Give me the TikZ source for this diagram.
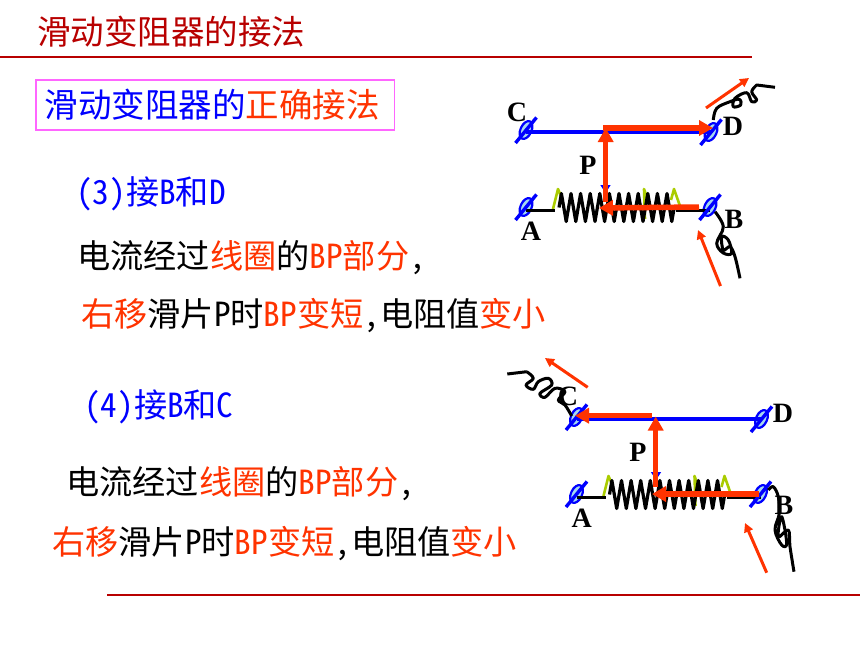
\documentclass[tikz,border=0pt]{standalone}
\usepackage{fontspec}
\setmainfont{Liberation Serif}
\newfontfamily\cjk[RawFeature=+hwid]{Noto Sans CJK SC}
\usetikzlibrary{arrows.meta,shapes.geometric,decorations.pathmorphing}
\definecolor{titlered}{HTML}{B80000}
\definecolor{flowred}{HTML}{FF3300}
\definecolor{boxpink}{HTML}{FF66FF}
\definecolor{capblue}{HTML}{A6D8F0}
\definecolor{stopgreen}{HTML}{AACC00}
\newcommand{\rd}[1]{\textcolor{flowred}{#1}}
\tikzset{
    slide text/.style={anchor=base west, inner sep=0pt, font=\fontsize{33.5}{33.5}\selectfont\cjk},
    body text/.style={slide text, font=\fontsize{33.2}{33.2}\selectfont\cjk},
    terminal/.style={shape=ellipse, draw=blue, fill=capblue, line width=2.2pt, inner sep=0pt, minimum width=11pt, minimum height=19pt, rotate=-25},
    post slash/.style={draw=blue, line width=3.4pt},
    post label/.style={inner sep=0pt, font=\fontsize{28}{28}\selectfont\bfseries},
    flow arrow/.style={draw=flowred, line width=5.5pt, -{Triangle[length=14pt,width=15pt]}},
    move arrow/.style={draw=flowred, line width=3pt, -{Triangle[length=9pt,width=9pt]}},
    lead wire/.style={draw=black, line width=3pt},
    curl wire/.style={draw=black, line width=3pt, line join=round},
    stop mark/.style={draw=stopgreen, line width=2.6pt, line join=round},
}
\begin{document}
\begin{tikzpicture}[x=1pt, y=-1pt]
    \useasboundingbox (0,0) rectangle (860,645);

    \node[slide text, text=titlered] (title) at (37,45) {滑动变阻器的接法};
    \coordinate (ruleA) at (0,57);
    \coordinate (ruleB) at (752,57);
    \draw[titlered, line width=2pt] (ruleA) -- (ruleB);
    \coordinate (ruleC) at (107,594.5);
    \coordinate (ruleD) at (860,594.5);
    \draw[titlered, line width=2pt] (ruleC) -- (ruleD);

    \draw[boxpink, line width=1.4pt] (36,80) rectangle (394.5,130);
    \node[slide text, text=blue] (heading) at (44.5,117) {滑动变阻器的\rd{正确接法}};

    \node[body text, text=blue] (caseThree) at (76,204) {(3)接B和D};
    \node[body text] (pathThree) at (77,268) {电流经过\rd{线圈}的\rd{BP部分},};
    \node[body text] (moveThree) at (81,326) {\rd{右移}滑片P时\rd{BP变短},电阻值\rd{变小}};
    \node[body text, text=blue] (caseFour) at (84,417) {(4)接B和C};
    \node[body text] (pathFour) at (66,494) {电流经过\rd{线圈}的\rd{BP部分},};
    \node[body text] (moveFour) at (52,554) {\rd{右移}滑片P时\rd{BP变短},电阻值\rd{变小}};

    % the two rheostats are the same apart from the shift
    \foreach \pre/\dx/\dy in {u/0/0, l/50.5/287} {
        \begin{scope}[shift={(\dx,\dy)}]
            \node[terminal] (\pre C) at (526,130) {};
            \node[terminal] (\pre D) at (711,132) {};
            \node[terminal] (\pre A) at (526,207) {};
            \node[terminal] (\pre B) at (710,207) {};
            \coordinate (\pre T) at (605.5,132);
            \coordinate (\pre S) at (605.5,193);
            \coordinate (\pre L) at (555,210.5);
            \coordinate (\pre R) at (676,210.5);
            \draw[blue, line width=3.6pt] (\pre C |- \pre T) -- (\pre D |- \pre T);
            \draw[blue, line width=1.6pt, -{Triangle[length=8pt,width=10pt]}] (\pre T) -- (\pre S);
            \draw[stop mark] (553,209) -- (558,189) -- (561,196);
            \draw[stop mark] (645,219) -- (644,189) -- (648,200);
            \draw[stop mark] (671,200) -- (674,189) -- (680,206);
            \draw[lead wire] (\pre A |- \pre L) -- (\pre L);
            \draw[lead wire] (\pre R) -- (\pre B |- \pre R);
            \draw[draw=black, line width=3.2pt, line join=round, decorate, decoration={zigzag, segment length=9.6pt, amplitude=14pt}] (559,207.5) -- (675,207.5);
            \foreach \t in {C,D,A,B}
                \draw[post slash] (\pre\t) +(-10.5,13) -- +(10.5,-12.5);
        \end{scope}
    }

    % upper one: B to D
    \coordinate (uInB) at (699,207);
    \coordinate (uOnSpring) at (599,208);
    \coordinate (uStem) at (605.7,202);
    \coordinate (uTop) at (605.7,128);
    \coordinate (uBar) at (603,128);
    \coordinate (uOutD) at (713,128);
    \draw[flow arrow] (uInB) -- (uOnSpring);
    \draw[flow arrow] (uStem) -- (uTop);
    \draw[flow arrow] (uBar) -- (uOutD);
    \coordinate (uMoveA) at (706,108);
    \coordinate (uMoveB) at (749,78);
    \draw[move arrow] (uMoveA) -- (uMoveB);
    \coordinate (uMoveC) at (720.5,286);
    \coordinate (uMoveD) at (698,230);
    \draw[move arrow] (uMoveC) -- (uMoveD);
    \draw[curl wire] plot[smooth, tension=0.6] coordinates {(713.3,120) (716.7,108.3) (730,101.7) (739.3,99.3) (740.7,105) (733.3,106.7) (735,98.3) (746.7,92.7) (751.7,101.7) (756.7,100) (751.7,91.7) (756.7,85)} -- (775,87.3);
    \draw[curl wire] plot[smooth, tension=0.6] coordinates {(715,211.7) (723.3,226.7) (716.7,243.3) (723.3,253) (731.7,253.3) (728.3,240) (721.7,236.7) (723.3,250) (730,246.7) (735,256.7) (740,278.3)};

    % lower one: B to C
    \coordinate (lInB) at (759.3,494);
    \coordinate (lOnSpring) at (652,494);
    \coordinate (lStem) at (655.7,487);
    \coordinate (lTop) at (655.7,416.5);
    \coordinate (lBar) at (652,415.7);
    \coordinate (lOutC) at (575,415.7);
    \draw[flow arrow] (lInB) -- (lOnSpring);
    \draw[flow arrow] (lStem) -- (lTop);
    \draw[flow arrow] (lBar) -- (lOutC);
    \coordinate (lMoveA) at (587.7,387.3);
    \coordinate (lMoveB) at (545,358);
    \draw[move arrow] (lMoveA) -- (lMoveB);
    \coordinate (lMoveC) at (766.7,572.7);
    \coordinate (lMoveD) at (745,523);
    \draw[move arrow] (lMoveC) -- (lMoveD);
    \draw[curl wire] (507.3,374) -- (526.7,371.7) plot[smooth, tension=0.6] coordinates {(526.7,371.7) (533.3,378.3) (526,385) (533.3,389.3) (538.3,381.7) (548.3,378.3) (551.7,385) (540,393.3) (545,397.3) (555,388.3) (565,391.7) (558.3,400) (565,405) (571.7,416)};
    \draw[curl wire] plot[smooth, tension=0.6] coordinates {(768.3,490) (773.3,486.7) (778.3,496.7) (779.3,513.3) (775,530) (781.7,545) (786.7,543.3) (781.7,516.7) (778.3,536.7) (788.3,530) (790,546.7) (794,571.7)};

    \node[post label] (labelC) at (517,112) {C};
    \node[post label] (labelD) at (733,126) {D};
    \node[post label] (labelA) at (531,231) {A};
    \node[post label] (labelB) at (734,219) {B};
    \node[post label] (labelP) at (588,165) {P};
    \node[post label] (labelCb) at (568,396) {C};
    \node[post label] (labelDb) at (783,413) {D};
    \node[post label] (labelAb) at (581.7,518) {A};
    \node[post label] (labelBb) at (784,505) {B};
    \node[post label] (labelPb) at (638,452) {P};
\end{tikzpicture}
\end{document}
